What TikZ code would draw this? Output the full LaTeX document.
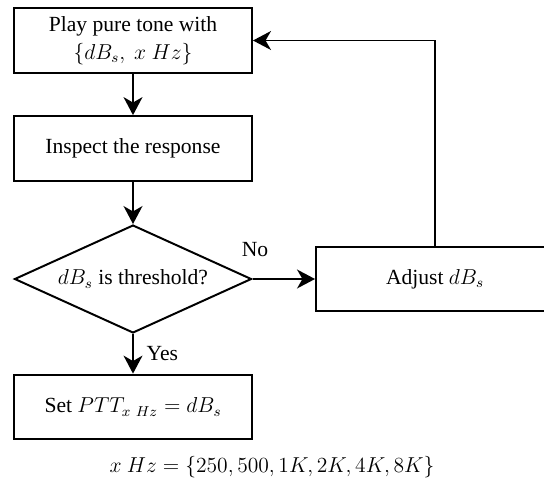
\documentclass[tikz,border=0pt,12pt]{standalone}
\usepackage[no-math]{fontspec}
\setmainfont{Liberation Serif}
\usepackage{tikz}
\usetikzlibrary{positioning,arrows.meta,shapes.geometric}
\tikzset{
    process box/.style={rectangle, draw, line width=1.1pt, minimum width=132.3pt, minimum height=36pt, align=center, inner sep=2pt},
    decision/.style={diamond, draw, line width=1.1pt, aspect=2.2, minimum width=131.8pt, minimum height=60pt, inner sep=1pt},
    flow arrow/.style={-{Stealth[length=10pt, width=10.5pt, inset=3pt]}, line width=1.1pt},
    branch label/.style={font=\normalsize},
    note/.style={font=\normalsize}
}

\begin{document}
\begin{tikzpicture}[x=0.556pt, y=-0.556pt]
    \useasboundingbox (0,0) rectangle (544,487);

    % Main steps - stacked on the left
    \node[process box] (play) at (133,40.5) {Play pure tone with\\[1pt] $\{dB_s,\ x\ Hz\}$};
    \node[process box] (inspect) at (133,148.5) {Inspect the response};
    \node[decision] (check) at (133,279) {$dB_s$ is threshold?};
    \node[process box] (set) at (133,407) {Set $PTT_{x\ Hz} = dB_s$};

    % Adjustment step - right of the decision (runs off the page)
    \node[process box] (adjust) at (435,279) {Adjust $dB_s$};

    % Forward edges
    \draw[flow arrow] (play) -- (inspect);
    \draw[flow arrow] (inspect) -- (check);
    \draw[flow arrow] (check) -- (adjust);
    \draw[flow arrow] (check) -- node[midway, right=3pt, branch label] {Yes} (set);

    % Loop back to the first step
    \draw[flow arrow] (adjust.north) |- (play.east);

    % Branch label
    \node[branch label] (no) at (255,250) {No};

    % Frequencies - below everything
    \node[note] (freqs) at (272,467) {$x\ Hz = \{250, 500, 1K, 2K, 4K, 8K\}$};
\end{tikzpicture}
\end{document}
